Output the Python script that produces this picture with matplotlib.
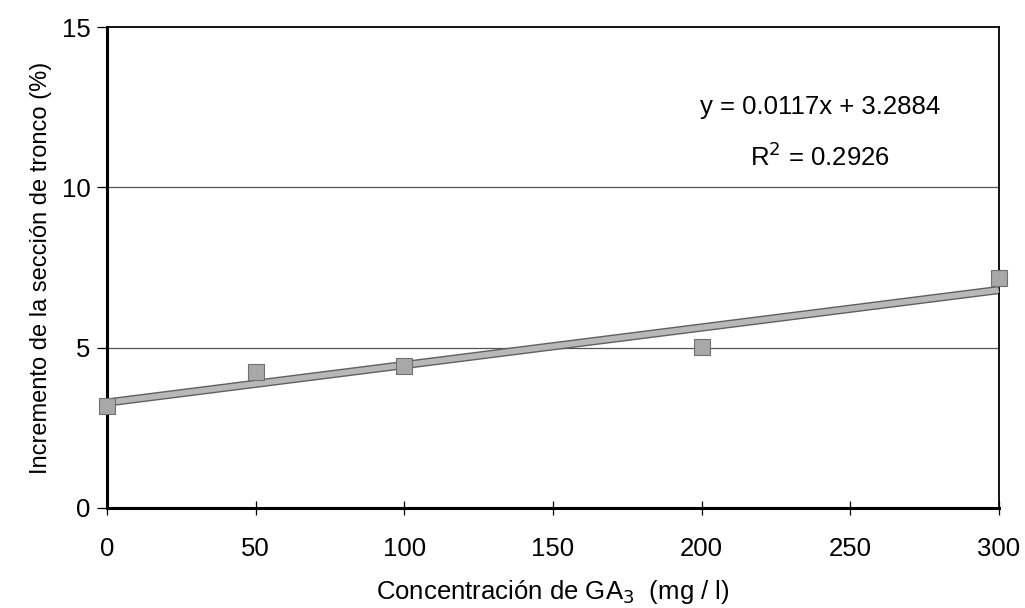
import matplotlib
matplotlib.use("Agg")
import matplotlib.pyplot as plt
import numpy as np

plt.rcParams['font.family'] = ['Liberation Sans', 'DejaVu Sans']

concentracion = [0, 50, 100, 200, 300]
incremento = [3.17, 4.25, 4.42, 5.03, 7.17]

pendiente = 0.0117
intercepto = 3.2884
r2 = 0.2926

fig = plt.figure(figsize=(10.25, 6.08), dpi=100)
ax = fig.add_axes([0.1044, 0.1645, 0.870, 0.791])

ax.set_xlim(0, 300)
ax.set_ylim(0, 15)

for yv in [5, 10]:
    ax.axhline(yv, color='#555555', lw=0.9, zorder=1)

x_linea = np.array([0, 300])
y_linea = pendiente * x_linea + intercepto
ax.plot(x_linea, y_linea, color='#606060', lw=6, solid_capstyle='butt', zorder=2)
ax.plot(x_linea, y_linea, color='#b8b8b8', lw=4, solid_capstyle='butt', zorder=3)

ax.plot(concentracion, incremento, 's', ms=11.5, color='#a8a8a8',
        mec='#707070', mew=0.8, zorder=4, clip_on=False)

ax.set_xticks([0, 50, 100, 150, 200, 250, 300])
ax.set_yticks([0, 5, 10, 15])
ax.tick_params(axis='x', direction='inout', length=10, width=0.9, labelsize=18.5, pad=16)
ax.tick_params(axis='y', direction='out', length=7, width=0.9, labelsize=18.5, pad=5)

for s in ['left', 'bottom']:
    ax.spines[s].set_linewidth(2.2)
for s in ['top', 'right']:
    ax.spines[s].set_linewidth(1.3)

ax.set_xlabel('Concentración de GA$_3$  (mg / l)', fontsize=18.5, labelpad=12)
ax.set_ylabel('Incremento de la sección de tronco (%)', fontsize=17, labelpad=7)

ax.text(239.8, 12.5, f'y = {pendiente}x + {intercepto}', fontsize=18.5,
        ha='center', va='center')
ax.text(239.8, 10.96, f'R$^2$ = {r2}', fontsize=18.5, ha='center', va='center')

fig.savefig('out.png', dpi=100)
